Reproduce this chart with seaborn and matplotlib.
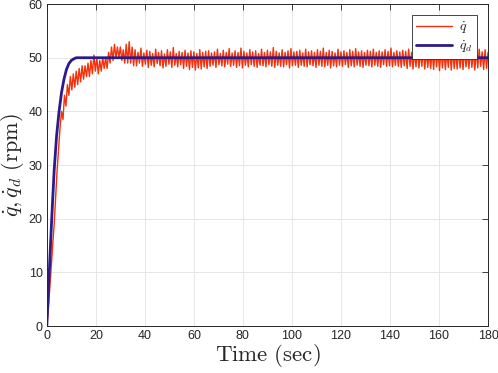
import numpy as np
import pandas as pd
import seaborn as sns
from matplotlib import pyplot as plt

# measured speed, sampled every 0.6 s from 0 to 180 s (one row = 6 s)
q_meas = [
    0, 3, 7, 11, 15, 19, 24, 29, 33, 37,
    40, 38.5, 43, 41, 45, 43, 46.5, 44, 47, 44.5,
    47.5, 45, 48, 45.5, 48.5, 46, 48.5, 46.5, 49, 46.5,
    49.5, 47, 50.5, 47.5, 50, 47, 49.5, 47.5, 50, 48,
    50, 48, 51, 49, 52, 49.5, 52.5, 50, 52, 50,
    52, 49.5, 51.5, 49, 52.5, 49, 53, 49, 52, 48.5,
    51.5, 48.5, 51, 49, 51.8, 48.4, 50.9, 48.8, 51.4, 48.2,
    51.2, 48.6, 50.8, 48.3, 51.6, 48.9, 51.0, 48.5, 51.3, 48.1,
    50.7, 48.4, 51.5, 48.8, 51.1, 48.2, 51.9, 48.6, 50.8, 48.3,
    51.2, 48.7, 51.0, 48.0, 51.4, 48.4, 50.9, 47.8, 51.3, 48.2,
    51.1, 47.7, 50.8, 48.1, 51.5, 47.9, 51.0, 48.3, 51.2, 48.0,
    51.3, 48.4, 50.9, 48.6, 51.1, 48.2, 51.6, 48.7, 50.8, 48.5,
    51.4, 48.3, 51.0, 48.8, 51.7, 48.4, 50.9, 48.6, 51.3, 48.2,
    51.0, 48.5, 51.8, 48.1, 51.2, 48.6, 50.9, 48.3, 51.5, 48.7,
    51.1, 48.4, 51.3, 48.2, 50.8, 48.6, 51.6, 48.5, 51.0, 48.3,
    51.4, 48.7, 51.1, 48.4, 51.9, 48.2, 51.2, 48.6, 50.9, 48.4,
    51.5, 48.3, 51.0, 48.7, 51.3, 48.1, 51.7, 48.5, 51.1, 48.6,
    51.2, 48.2, 51.4, 48.6, 50.9, 48.4, 51.6, 48.3, 51.1, 48.7,
    51.3, 48.5, 51.0, 48.2, 51.5, 48.6, 51.2, 48.4, 51.8, 48.3,
    51.0, 48.6, 51.4, 48.1, 51.2, 48.5, 50.9, 48.3, 51.6, 48.6,
    51.1, 48.4, 51.3, 48.7, 51.0, 48.2, 51.5, 48.5, 51.2, 48.3,
    51.7, 48.6, 51.1, 48.4, 51.3, 48.2, 51.0, 48.6, 51.4, 48.5,
    51.2, 48.3, 51.6, 48.6, 51.0, 48.4, 51.3, 48.2, 51.1, 48.7,
    51.5, 48.4, 51.2, 48.5, 51.8, 48.3, 51.0, 48.6, 51.3, 48.4,
    51.1, 48.2, 51.4, 48.5, 51.2, 48.0, 51.6, 48.4, 51.0, 47.9,
    51.3, 48.3, 51.5, 48.1, 51.1, 48.4, 51.7, 47.9, 51.2, 48.2,
    51.0, 48.0, 51.4, 47.8, 51.6, 48.3, 51.2, 47.6, 51.5, 48.1,
    51.3, 47.8, 51.1, 48.2, 51.7, 47.7, 51.4, 48.0, 51.2, 47.9,
    51.6, 48.1, 51.3, 47.8, 51.5, 48.3, 51.1, 48.0, 51.8, 48.2,
    51.2, 47.7, 51.4, 48.1, 51.6, 48.4, 51.1, 47.8, 51.5, 48.0,
    51.0,
]
t_meas = np.arange(len(q_meas)) * 0.6

# desired speed
t_des = [0, 1, 2, 3, 4, 5, 6, 7, 8, 9, 10, 11, 12, 13, 180]
q_des = [0, 10, 20, 29, 35.5, 40, 43.5, 46, 47.8, 48.9, 49.5, 49.8, 50, 50, 50]

x_ticks = [0, 20, 40, 60, 80, 100, 120, 140, 160, 180]
y_ticks = [0, 10, 20, 30, 40, 50, 60]

sns.set_style("whitegrid")
plt.rcParams['font.family'] = ['Liberation Sans', 'DejaVu Sans']
plt.rcParams['mathtext.fontset'] = 'cm'

meas = pd.DataFrame({"t": t_meas, "q": q_meas})
des = pd.DataFrame({"t": t_des, "q": q_des})

fig = plt.figure(figsize=(4.98, 3.73), dpi=100)
ax = fig.add_axes([0.094, 0.126, 0.886, 0.863])

sns.lineplot(data=meas, x="t", y="q", ax=ax, color="#f5300a", linewidth=1.0,
             estimator=None, label=r"$\dot{q}$")
sns.lineplot(data=des, x="t", y="q", ax=ax, color="#2b1a8a", linewidth=2.0,
             estimator=None, label=r"$\dot{q}_d$")

ax.set_xlim(0, 180)
ax.set_ylim(0, 60)
ax.set_xticks(x_ticks)
ax.set_yticks(y_ticks)
ax.tick_params(direction="in", length=4, width=0.6, colors="#262626",
               labelsize=9, top=True, right=True, pad=3)
ax.grid(True, color="#e6e6e6", linewidth=0.7)
for s in ax.spines.values():
    s.set_color("#262626")
    s.set_linewidth(0.7)

ax.set_xlabel(r"$\mathrm{Time\ (sec)}$", fontsize=16.5, labelpad=0)
ax.set_ylabel(r"$\dot{q}, \dot{q}_d\ \mathrm{(rpm)}$", fontsize=16, labelpad=2)

leg = ax.legend(loc="upper right", fontsize=10, frameon=True, fancybox=False,
                edgecolor="#262626", framealpha=1, handlelength=2.6,
                handletextpad=0.5, borderpad=0.3, borderaxespad=0.8,
                labelspacing=0.25)
leg.get_frame().set_linewidth(0.6)

fig.savefig("out.png", dpi=100)
